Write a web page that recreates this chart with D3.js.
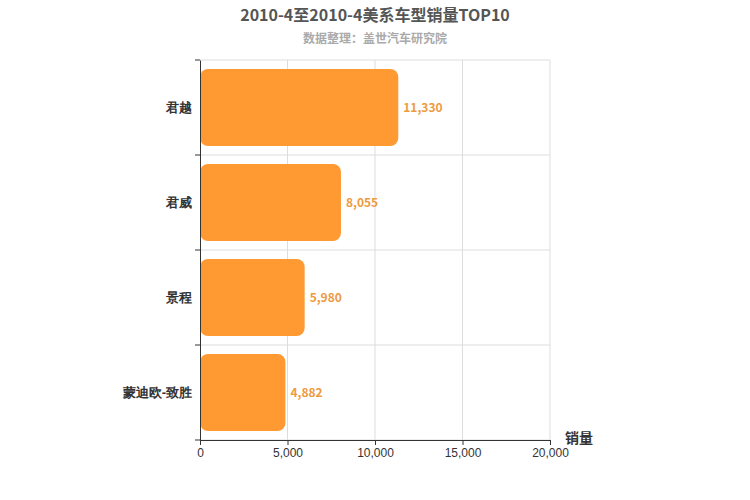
<!DOCTYPE html>
<html><head><meta charset="utf-8">
<script src="https://cdn.jsdelivr.net/npm/d3@7"></script>
<style>body{margin:0;background:#fff;font-family:"Noto Sans CJK SC","Noto Sans",sans-serif}</style>
</head><body><svg id="c" width="750" height="500"></svg>
<script>
const models = ['君越', '君威', '景程', '蒙迪欧-致胜'];
const sales = [11330, 8055, 5980, 4882];
const xTicks = [0, 5000, 10000, 15000, 20000];

const svg = d3.select('#c');
const m = {l: 200, r: 550, t: 60, b: 440};
const x = d3.scaleLinear().domain([0, 20000]).range([m.l, m.r]);
const y = d3.scaleBand().domain(models).range([m.t, m.b]);

svg.append('text').attr('x', 375).attr('y', 21).attr('text-anchor', 'middle')
  .attr('font-size', 16).attr('font-weight', 'bold').attr('fill', '#555')
  .text('2010-4至2010-4美系车型销量TOP10');
svg.append('text').attr('x', 375).attr('y', 43).attr('text-anchor', 'middle')
  .attr('font-size', 12).attr('font-weight', 'bold').attr('fill', '#aaa')
  .text('数据整理：盖世汽车研究院');

// grid
svg.append('g').selectAll('line').data(xTicks.slice(1)).join('line')
  .attr('x1', d => x(d)).attr('x2', d => x(d)).attr('y1', m.t).attr('y2', m.b)
  .attr('stroke', '#ddd');
svg.append('g').selectAll('line').data(d3.range(models.length + 1)).join('line')
  .attr('x1', m.l).attr('x2', m.r)
  .attr('y1', i => m.t + i * y.step()).attr('y2', i => m.t + i * y.step())
  .attr('stroke', '#ddd');

// bars
svg.append('g').selectAll('rect').data(models).join('rect')
  .attr('x', x(0)).attr('y', d => y(d) + 9)
  .attr('width', (d, i) => x(sales[i]) - x(0)).attr('height', y.bandwidth() - 18)
  .attr('rx', 8).attr('fill', '#ff9a33');
svg.append('g').selectAll('text').data(models).join('text')
  .attr('x', (d, i) => x(sales[i]) + 5).attr('y', d => y(d) + y.bandwidth() / 2 + 4)
  .attr('font-size', 12).attr('font-weight', 'bold').attr('fill', '#ee9a3e')
  .text((d, i) => d3.format(',')(sales[i]));

// axes
const xa = svg.append('g').attr('transform', `translate(0,${m.b})`)
  .call(d3.axisBottom(x).tickValues(xTicks).tickFormat(d3.format(',')).tickSize(5));
xa.selectAll('text').attr('font-size', 12).attr('fill', '#333').attr('font-family', 'Liberation Sans, sans-serif');
xa.selectAll('line,path').attr('stroke', '#333');

const ya = svg.append('g').attr('transform', `translate(${m.l},0)`)
  .call(d3.axisLeft(y).tickSize(0).tickPadding(8));
ya.select('path').attr('stroke', '#333');
ya.selectAll('text').attr('font-size', 13).attr('font-weight', 'bold').attr('fill', '#333');
svg.append('g').selectAll('line').data(d3.range(models.length + 1)).join('line')
  .attr('x1', m.l - 5).attr('x2', m.l)
  .attr('y1', i => m.t + i * y.step()).attr('y2', i => m.t + i * y.step())
  .attr('stroke', '#333');

svg.append('text').attr('x', 565).attr('y', 443).attr('font-size', 14)
  .attr('font-weight', 'bold').attr('fill', '#333').text('销量');
</script></body></html>
